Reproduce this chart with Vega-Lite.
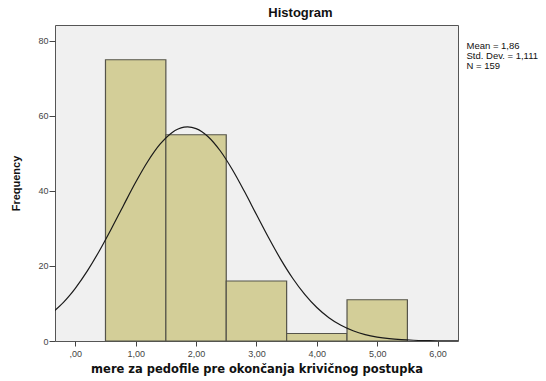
{
  "$schema": "https://vega.github.io/schema/vega-lite/v6.json",
  "width": 403,
  "height": 316,
  "autosize": {"type": "none"},
  "padding": {"left": 55, "top": 25, "right": 88, "bottom": 40},
  "background": "white",
  "config": {
    "font": "Liberation Sans"
  },
  "view": {"fill": "#f0f0f0", "stroke": "#555555", "strokeWidth": 1},
  "title": {
    "text": "Histogram",
    "fontSize": 13,
    "fontWeight": "bold",
    "font": "Liberation Sans",
    "color": "#111",
    "anchor": "middle",
    "dx": 44,
    "offset": 5
  },
  "datasets": {
    "bars": [
      {"lo": 0.5, "hi": 1.5, "count": 75},
      {"lo": 1.5, "hi": 2.5, "count": 55},
      {"lo": 2.5, "hi": 3.5, "count": 16},
      {"lo": 3.5, "hi": 4.5, "count": 2},
      {"lo": 4.5, "hi": 5.5, "count": 11}
    ],
    "curve": [
      {"x": -0.34, "y": 8.10}, {"x": -0.2, "y": 10.23}, {"x": -0.1, "y": 12.04},
      {"x": 0.0, "y": 14.06}, {"x": 0.2, "y": 18.70}, {"x": 0.4, "y": 24.08},
      {"x": 0.6, "y": 30.01}, {"x": 0.8, "y": 36.22}, {"x": 1.0, "y": 42.31},
      {"x": 1.2, "y": 47.85}, {"x": 1.4, "y": 52.40}, {"x": 1.6, "y": 55.55},
      {"x": 1.8, "y": 57.01}, {"x": 1.86, "y": 57.09}, {"x": 2.0, "y": 56.64},
      {"x": 2.2, "y": 54.48}, {"x": 2.4, "y": 50.73}, {"x": 2.6, "y": 45.73},
      {"x": 2.8, "y": 39.91}, {"x": 3.0, "y": 33.72}, {"x": 3.2, "y": 27.59},
      {"x": 3.4, "y": 21.84}, {"x": 3.6, "y": 16.74}, {"x": 3.8, "y": 12.43},
      {"x": 4.0, "y": 8.93}, {"x": 4.2, "y": 6.21}, {"x": 4.4, "y": 4.18},
      {"x": 4.6, "y": 2.73}, {"x": 4.8, "y": 1.72}, {"x": 5.0, "y": 1.05},
      {"x": 5.2, "y": 0.62}, {"x": 5.4, "y": 0.36}, {"x": 5.6, "y": 0.20},
      {"x": 5.8, "y": 0.11}, {"x": 6.0, "y": 0.055}, {"x": 6.2, "y": 0.03},
      {"x": 6.338, "y": 0.015}
    ],
    "stats": [
      {"label": "Mean = 1,86"},
      {"label": "Std. Dev. = 1,111"},
      {"label": "N = 159"}
    ]
  },
  "layer": [
    {
      "data": {"name": "bars"},
      "mark": {"type": "rect", "fill": "#d3ce98", "stroke": "#55544a", "strokeWidth": 1.2},
      "encoding": {
        "x": {
          "field": "lo", "type": "quantitative",
          "scale": {"domain": [-0.336, 6.338], "nice": false, "zero": false},
          "axis": {
            "values": [0, 1, 2, 3, 4, 5, 6],
            "labelExpr": "datum.value == 0 ? ',00' : replace(format(datum.value, '.2f'), '.', ',')",
            "title": "mere za pedofile pre okončanja krivičnog postupka",
            "titleFont": "DejaVu Sans",
            "titleFontSize": 11.5,
            "titleFontWeight": "bold",
            "titleColor": "#111",
            "titlePadding": 5,
            "labelFontSize": 9,
            "labelColor": "#444",
            "labelPadding": 3,
            "tickColor": "#444",
            "tickSize": 5,
            "domain": false,
            "grid": false
          }
        },
        "x2": {"field": "hi"},
        "y": {
          "field": "count", "type": "quantitative",
          "scale": {"domain": [0, 84.26], "nice": false},
          "axis": {
            "values": [0, 20, 40, 60, 80],
            "title": "Frequency",
            "titleFontSize": 11,
            "titleFontWeight": "bold",
            "titleColor": "#111",
            "titlePadding": 16,
            "labelFontSize": 9,
            "labelColor": "#444",
            "labelPadding": 1,
            "tickColor": "#444",
            "tickSize": 6,
            "domain": false,
            "grid": false
          }
        },
        "y2": {"datum": 0}
      }
    },
    {
      "data": {"name": "curve"},
      "mark": {"type": "line", "color": "#1a1a1a", "strokeWidth": 1.2, "interpolate": "monotone", "clip": true},
      "encoding": {
        "x": {"field": "x", "type": "quantitative"},
        "y": {"field": "y", "type": "quantitative"}
      }
    },
    {
      "data": {"name": "stats"},
      "mark": {"type": "point", "size": 0, "opacity": 0},
      "encoding": {
        "color": {
          "field": "label", "type": "nominal",
          "scale": {"domain": ["Mean = 1,86", "Std. Dev. = 1,111", "N = 159"], "range": ["#000", "#000", "#000"]},
          "legend": {
            "title": null,
            "orient": "none",
            "legendX": 402,
            "legendY": 16,
            "symbolSize": 0,
            "symbolOpacity": 0,
            "symbolStrokeWidth": 0,
            "labelOffset": 0,
            "labelFontSize": 9.5,
            "labelColor": "#111",
            "rowPadding": -3,
            "padding": 0,
            "labelLimit": 200
          }
        }
      }
    }
  ]
}
